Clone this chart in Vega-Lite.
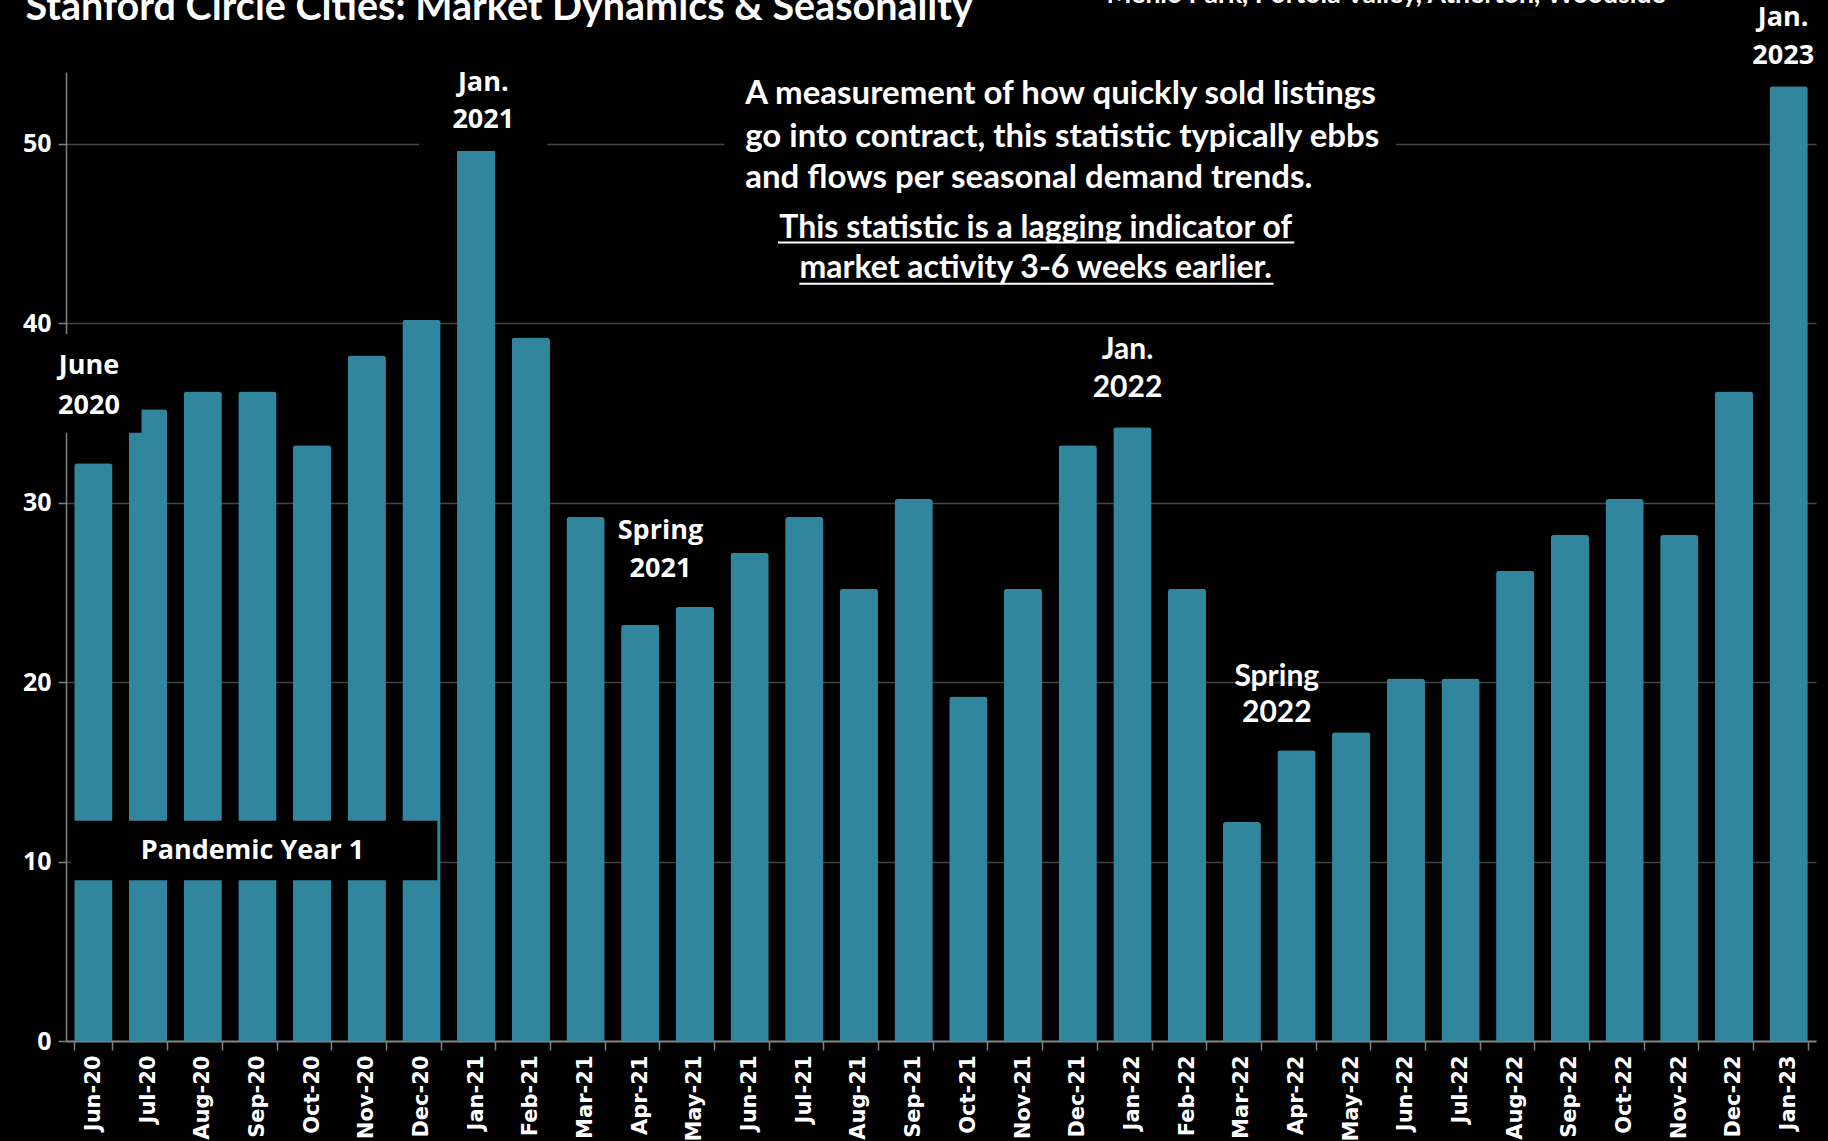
{
  "$schema": "https://vega.github.io/schema/vega-lite/v6.json",
  "width": 1750,
  "height": 969,
  "autosize": {"type": "none"},
  "padding": {"left": 66, "top": 72, "right": 12, "bottom": 100},
  "background": "black",
  "config": {
    "view": {"stroke": null},
    "axisX": {
      "labelAngle": -90, "labelFont": "DejaVu Sans", "labelFontWeight": "bold",
      "labelFontSize": 21, "labelColor": "white", "labelPadding": 5, "tickBand": "extent",
      "tickSize": 9, "tickColor": "#808080", "tickWidth": 1.5, "domainColor": "#808080",
      "domainWidth": 2, "grid": false
    }
  },
  "datasets": {
    "bars": [
      {"month": "Jun-20", "days": 32.2}, {"month": "Jul-20", "days": 35.2}, {"month": "Aug-20", "days": 36.2},
      {"month": "Sep-20", "days": 36.2}, {"month": "Oct-20", "days": 33.2}, {"month": "Nov-20", "days": 38.2},
      {"month": "Dec-20", "days": 40.2}, {"month": "Jan-21", "days": 50.2}, {"month": "Feb-21", "days": 39.2},
      {"month": "Mar-21", "days": 29.2}, {"month": "Apr-21", "days": 23.2}, {"month": "May-21", "days": 24.2},
      {"month": "Jun-21", "days": 27.2}, {"month": "Jul-21", "days": 29.2}, {"month": "Aug-21", "days": 25.2},
      {"month": "Sep-21", "days": 30.2}, {"month": "Oct-21", "days": 19.2}, {"month": "Nov-21", "days": 25.2},
      {"month": "Dec-21", "days": 33.2}, {"month": "Jan-22", "days": 34.2}, {"month": "Feb-22", "days": 25.2},
      {"month": "Mar-22", "days": 12.2}, {"month": "Apr-22", "days": 16.2}, {"month": "May-22", "days": 17.2},
      {"month": "Jun-22", "days": 20.2}, {"month": "Jul-22", "days": 20.2}, {"month": "Aug-22", "days": 26.2},
      {"month": "Sep-22", "days": 28.2}, {"month": "Oct-22", "days": 30.2}, {"month": "Nov-22", "days": 28.2},
      {"month": "Dec-22", "days": 36.2}, {"month": "Jan-23", "days": 53.2}
    ],
    "boxes": [
      {"name": "june2020", "x1": -0.3, "x2": 1.38, "y1": 33.9, "y2": 39.4},
      {"name": "jan2021", "x1": 6.46, "x2": 8.8, "y1": 49.6, "y2": 54.5},
      {"name": "note", "x1": 12.04, "x2": 24.32, "y1": 41.5, "y2": 54.5},
      {"name": "pandemic", "x1": 0.1, "x2": 6.79, "y1": 8.96, "y2": 12.27}
    ],
    "underlines": [
      {"x1": 13.02, "x2": 22.46, "y": 44.5},
      {"x1": 13.41, "x2": 22.08, "y": 42.2}
    ],
    "labels": [
      {"kind": "callA", "text": "June", "x": 0.42, "y": 37.6},
      {"kind": "callA", "text": "2020", "x": 0.42, "y": 35.4},
      {"kind": "callA", "text": "Jan.", "x": 7.63, "y": 53.4},
      {"kind": "callA", "text": "2021", "x": 7.63, "y": 51.3},
      {"kind": "callA", "text": "Spring", "x": 10.87, "y": 28.4},
      {"kind": "callA", "text": "2021", "x": 10.87, "y": 26.3},
      {"kind": "callA", "text": "Pandemic Year 1", "x": 3.41, "y": 10.6},
      {"kind": "callA", "text": "Jan.", "x": 31.4, "y": 57.0},
      {"kind": "callA", "text": "2023", "x": 31.4, "y": 54.9},
      {"kind": "callB", "text": "Jan.", "x": 19.41, "y": 38.5},
      {"kind": "callB", "text": "2022", "x": 19.41, "y": 36.4},
      {"kind": "callB", "text": "Spring", "x": 22.14, "y": 20.3},
      {"kind": "callB", "text": "2022", "x": 22.14, "y": 18.3},
      {"kind": "note", "text": "A measurement of how quickly sold listings", "x": 12.42, "y": 52.75},
      {"kind": "note", "text": "go into contract, this statistic typically ebbs", "x": 12.42, "y": 50.4},
      {"kind": "note", "text": "and flows per seasonal demand trends.", "x": 12.42, "y": 48.1},
      {"kind": "noteU", "text": "This statistic is a lagging indicator of", "x": 17.73, "y": 45.3},
      {"kind": "noteU", "text": "market activity 3-6 weeks earlier.", "x": 17.73, "y": 43.06},
      {"kind": "title", "text": "Stanford Circle Cities: Market Dynamics & Seasonality", "x": -0.74, "y": 56.88},
      {"kind": "subtitle", "text": "Menlo Park, Portola Valley, Atherton, Woodside", "x": 24.14, "y": 57.83}
    ]
  },
  "layer": [
    {
      "data": {"name": "bars"},
      "mark": {"type": "bar", "color": "#31859C", "cornerRadiusTopLeft": 3, "cornerRadiusTopRight": 3},
      "encoding": {
        "x": {
          "field": "month", "type": "nominal", "sort": null, "title": null,
          "scale": {"paddingInner": 0.3, "paddingOuter": 0.15}
        },
        "y": {
          "field": "days", "type": "quantitative", "title": null,
          "scale": {"domain": [0, 54], "nice": false},
          "axis": {
            "values": [0, 10, 20, 30, 40, 50], "grid": true, "gridColor": "#444444",
            "gridWidth": 1.5, "domainColor": "#808080", "domainWidth": 1.5, "tickColor": "#808080",
            "tickSize": 8, "tickWidth": 1.5, "labelFont": "Open Sans", "labelFontWeight": "bold",
            "labelFontSize": 25, "labelColor": "white", "labelPadding": 7
          }
        }
      }
    },
    {
      "data": {"name": "boxes"},
      "mark": {"type": "rect", "color": "black"},
      "encoding": {
        "x": {"field": "x1", "type": "quantitative", "scale": {"domain": [0, 32], "nice": false, "zero": false}, "axis": null},
        "x2": {"field": "x2"},
        "y": {"field": "y1", "type": "quantitative", "scale": {"domain": [0, 54], "nice": false}, "axis": null},
        "y2": {"field": "y2"}
      }
    },
    {
      "data": {"name": "underlines"},
      "mark": {"type": "rule", "color": "white", "strokeWidth": 2},
      "encoding": {
        "x": {"field": "x1", "type": "quantitative", "scale": {"domain": [0, 32], "nice": false, "zero": false}, "axis": null},
        "x2": {"field": "x2"},
        "y": {"field": "y", "type": "quantitative", "scale": {"domain": [0, 54], "nice": false}, "axis": null}
      }
    },
    {
      "data": {"name": "labels"},
      "transform": [{"filter": "datum.kind === 'callA'"}],
      "mark": {"type": "text", "color": "white", "font": "Open Sans", "fontWeight": "bold", "fontSize": 27, "align": "center", "baseline": "middle"},
      "encoding": {
        "x": {"field": "x", "type": "quantitative", "scale": {"domain": [0, 32], "nice": false, "zero": false}, "axis": null},
        "y": {"field": "y", "type": "quantitative", "scale": {"domain": [0, 54], "nice": false}, "axis": null},
        "text": {"field": "text"}
      }
    },
    {
      "data": {"name": "labels"},
      "transform": [{"filter": "datum.kind === 'callB'"}],
      "mark": {"type": "text", "color": "white", "font": "Lato", "fontWeight": "bold", "fontSize": 30, "align": "center", "baseline": "middle"},
      "encoding": {
        "x": {"field": "x", "type": "quantitative", "scale": {"domain": [0, 32], "nice": false, "zero": false}, "axis": null},
        "y": {"field": "y", "type": "quantitative", "scale": {"domain": [0, 54], "nice": false}, "axis": null},
        "text": {"field": "text"}
      }
    },
    {
      "data": {"name": "labels"},
      "transform": [{"filter": "datum.kind === 'note'"}],
      "mark": {"type": "text", "color": "white", "font": "Lato", "fontWeight": "bold", "fontSize": 33, "align": "left", "baseline": "middle"},
      "encoding": {
        "x": {"field": "x", "type": "quantitative", "scale": {"domain": [0, 32], "nice": false, "zero": false}, "axis": null},
        "y": {"field": "y", "type": "quantitative", "scale": {"domain": [0, 54], "nice": false}, "axis": null},
        "text": {"field": "text"}
      }
    },
    {
      "data": {"name": "labels"},
      "transform": [{"filter": "datum.kind === 'noteU'"}],
      "mark": {"type": "text", "color": "white", "font": "Lato", "fontWeight": "bold", "fontSize": 32, "align": "center", "baseline": "middle"},
      "encoding": {
        "x": {"field": "x", "type": "quantitative", "scale": {"domain": [0, 32], "nice": false, "zero": false}, "axis": null},
        "y": {"field": "y", "type": "quantitative", "scale": {"domain": [0, 54], "nice": false}, "axis": null},
        "text": {"field": "text"}
      }
    },
    {
      "data": {"name": "labels"},
      "transform": [{"filter": "datum.kind === 'title'"}],
      "mark": {"type": "text", "color": "white", "font": "Lato", "fontWeight": "bold", "fontSize": 39.5, "align": "left", "baseline": "alphabetic"},
      "encoding": {
        "x": {"field": "x", "type": "quantitative", "scale": {"domain": [0, 32], "nice": false, "zero": false}, "axis": null},
        "y": {"field": "y", "type": "quantitative", "scale": {"domain": [0, 54], "nice": false}, "axis": null},
        "text": {"field": "text"}
      }
    },
    {
      "data": {"name": "labels"},
      "transform": [{"filter": "datum.kind === 'subtitle'"}],
      "mark": {"type": "text", "color": "white", "font": "Lato", "fontWeight": "bold", "fontSize": 26.5, "align": "center", "baseline": "alphabetic"},
      "encoding": {
        "x": {"field": "x", "type": "quantitative", "scale": {"domain": [0, 32], "nice": false, "zero": false}, "axis": null},
        "y": {"field": "y", "type": "quantitative", "scale": {"domain": [0, 54], "nice": false}, "axis": null},
        "text": {"field": "text"}
      }
    }
  ],
  "resolve": {"scale": {"x": "independent"}, "axis": {"y": "independent"}}
}
